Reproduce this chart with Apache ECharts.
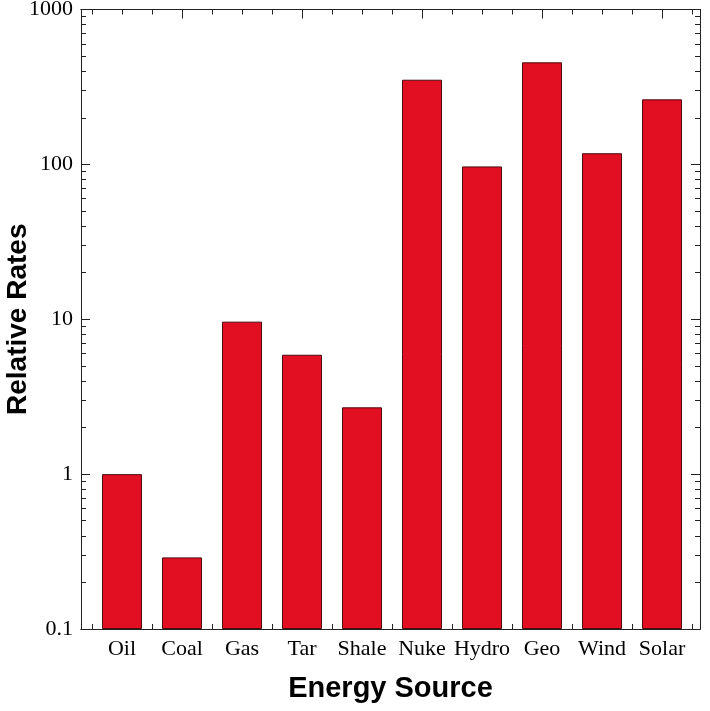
<!DOCTYPE html>
<html><head><meta charset="utf-8">
<script src="https://cdn.jsdelivr.net/npm/echarts@6/dist/echarts.min.js"></script>
<style>html,body{margin:0;padding:0;background:#fff}#c{width:710px;height:711px}</style>
</head><body><div id="c"></div>
<script>
const categories = ['Oil','Coal','Gas','Tar','Shale','Nuke','Hydro','Geo','Wind','Solar'];
const relativeRates = [1.0, 0.29, 9.65, 5.9, 2.7, 352, 97, 456, 118, 263];
const yTickValues = [0.1, 1, 10, 100, 1000];
const yTickLabels = ['0.1','1','10','100','1000'];
const xTitle = 'Energy Source';
const yTitle = 'Relative Rates';

const xPositions = categories.map((c, i) => i + 1);
const xMajor = xPositions.filter(v => v % 2 === 0);
const xMinor = [];
for (let v = 0.5; v <= 10.5; v += 0.5) { if (!xMajor.includes(v)) xMinor.push(v); }
const yMinorLog = [];
for (let d = -1; d < 3; d++) { for (let m = 2; m <= 9; m++) yMinorLog.push(d + Math.log10(m)); }

const X_MIN = 0.3167, X_MAX = 10.633;
const lineStyle = { color: '#222', width: 1 };
const serif = 'Liberation Serif';

function xAx(pos, ticks, len, labels) {
  return {
    type: 'value', position: pos, min: X_MIN, max: X_MAX,
    axisLine: { show: true, onZero: false, lineStyle },
    splitLine: { show: false },
    axisTick: { show: true, inside: true, length: len, customValues: ticks, lineStyle },
    axisLabel: labels ? {
      show: true, customValues: xPositions, margin: 9,
      fontFamily: serif, fontSize: 22, color: '#000',
      formatter: v => categories[Math.round(v) - 1]
    } : { show: false }
  };
}
function yMinorAx(pos) {
  return {
    type: 'value', position: pos, min: -1, max: 3,
    axisLine: { show: true, onZero: false, lineStyle },
    splitLine: { show: false },
    axisTick: { show: true, inside: true, length: 5, customValues: yMinorLog, lineStyle },
    axisLabel: { show: false }
  };
}
function yMajorAx(pos, labels) {
  return {
    type: 'log', logBase: 10, position: pos, min: 0.1, max: 1000, startValue: 0.1,
    axisLine: { show: true, onZero: false, lineStyle },
    splitLine: { show: false },
    axisTick: { show: true, inside: true, length: 9, lineStyle },
    axisLabel: labels ? {
      show: true, margin: 8, fontFamily: serif, fontSize: 22, color: '#000',
      formatter: v => { const i = yTickValues.findIndex(t => Math.abs(Math.log10(t) - Math.log10(v)) < 1e-6); return i >= 0 ? yTickLabels[i] : ''; }
    } : { show: false }
  };
}

const chart = echarts.init(document.getElementById('c'));
const xa0 = xAx('bottom', xMajor, 9, true);
xa0.name = xTitle; xa0.nameLocation = 'middle'; xa0.nameGap = 45; xa0.nameMoveOverlap = false;
xa0.nameTextStyle = { fontFamily: 'Liberation Sans', fontWeight: 'bold', fontSize: 29, color: '#000' };
const ya0 = yMajorAx('left', true);
ya0.name = yTitle; ya0.nameLocation = 'middle'; ya0.nameGap = 49; ya0.nameMoveOverlap = false;
ya0.nameTextStyle = { fontFamily: 'Liberation Sans', fontWeight: 'bold', fontSize: 28, color: '#000' };

chart.setOption({
  animation: false,
  backgroundColor: '#fff',
  grid: { left: 81, right: 10, top: 9.5, bottom: 82, containLabel: false, outerBoundsMode: 'none' },
  xAxis: [xa0, xAx('bottom', xMinor, 5, false), xAx('top', xMajor, 9, false), xAx('top', xMinor, 5, false)],
  yAxis: [ya0, yMinorAx('left'), yMajorAx('right', false), yMinorAx('right')],
  series: [{
    type: 'bar', xAxisIndex: 0, yAxisIndex: 0, barWidth: 40,
    data: xPositions.map((x, i) => [x, relativeRates[i]]),
    itemStyle: { color: '#e20e21', borderColor: '#4a0c10', borderWidth: 1 }
  }]
});
</script></body></html>
